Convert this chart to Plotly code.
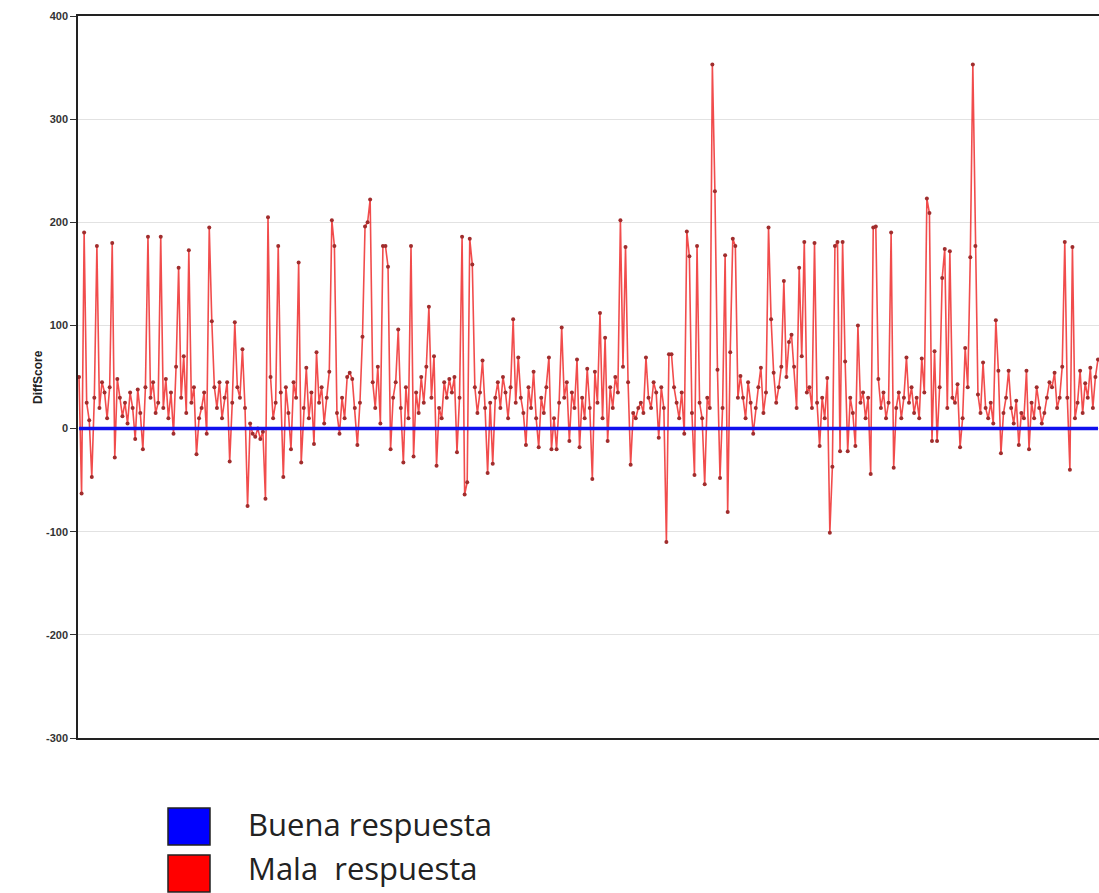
import plotly.graph_objects as go

# ---- data ----
mala_respuesta = [
    50, -63, 190, 25, 8, -47, 30, 177, 20, 45, 35, 10, 40, 180, -28, 48, 30, 12, 25, 5,
    35, 20, -10, 38, 15, -20, 40, 186, 30, 45, 15, 25, 186, 20, 48, 10, 35, -5, 60, 156,
    30, 70, 15, 173, 25, 40, -25, 10, 20, 35, -5, 195, 104, 40, 20, 45, 10, 30, 45, -32,
    25, 103, 40, 30, 77, 20, -75, 5, -5, -8, 0, -10, -3, -68, 205, 50, 10, 25, 177, 35,
    -47, 40, 15, -20, 45, 30, 161, -33, 20, 59, 10, 35, -15, 74, 25, 40, 5, 30, 55, 202,
    177, 15, -5, 30, 10, 50, 54, 48, 20, -16, 25, 89, 196, 200, 222, 45, 20, 60, 5, 177,
    177, 157, -20, 30, 45, 96, 20, -33, 40, 10, 177, -27, 35, 15, 50, 25, 60, 118, 30, 70,
    -36, 20, 10, 45, 30, 48, 35, 50, -23, 30, 186, -64, -52, 184, 159, 40, 15, 35, 66, 20,
    -43, 25, -34, 30, 45, 20, 50, 35, 10, 40, 106, 25, 69, 30, 15, -16, 40, 20, 55, 10,
    -18, 30, 15, 40, 69, -20, 10, -20, 25, 98, 30, 45, -12, 35, 20, 67, -18, 30, 10, 58,
    20, -49, 55, 25, 112, 10, 88, -12, 40, 20, 50, 35, 202, 60, 176, 45, -35, 15, 10, 20,
    25, 15, 69, 30, 20, 45, 35, -9, 40, 20, -110, 72, 72, 40, 25, 10, 35, -5, 191, 167,
    15, -45, 177, 25, 10, -54, 30, 20, 353, 230, 57, -48, 20, 168, -81, 74, 184, 177, 30, 51,
    30, 10, 45, 25, -5, 20, 40, 59, 15, 35, 195, 106, 54, 25, 40, 60, 143, 50, 84, 91,
    60, 20, 156, 70, 181, 35, 40, 20, 180, 25, -17, 30, 10, 49, -101, -37, 177, 181, -22, 181,
    65, -22, 30, 15, -17, 100, 25, 35, 10, 30, -44, 195, 196, 48, 20, 35, 10, 25, 190, -38,
    20, 35, 10, 30, 69, 25, 40, 15, 30, 10, 68, 35, 223, 209, -12, 75, -12, 40, 146, 174,
    20, 172, 30, 25, 43, -18, 10, 78, 40, 166, 353, 177, 33, 15, 64, 20, 10, 25, 5, 105,
    56, -24, 15, 30, 56, 20, 5, 27, -16, 15, 10, 56, -20, 25, 10, 40, 20, 5, 15, 30,
    45, 40, 54, 20, 30, 60, 181, 30, -40, 176, 10, 25, 56, 15, 44, 30, 59, 20, 50, 67,
]
question_index = list(range(len(mala_respuesta)))

buena_x = [0, len(mala_respuesta) - 1]
buena_y = [0, 0]

y_tick_values = [-300, -200, -100, 0, 100, 200, 300, 400]
y_tick_labels = ["-300", "-200", "-100", "0", "100", "200", "300", "400"]

legend_labels = ["Buena respuesta", "Mala  respuesta"]
legend_colors = ["#0000ff", "#ff0000"]

# ---- figure ----
W, H = 1099, 893
left, top, bottom = 78, 16, 738

fig = go.Figure()
fig.add_trace(go.Scatter(
    x=question_index, y=mala_respuesta, mode="lines+markers",
    line=dict(color="rgba(238,45,45,0.85)", width=1.6),
    marker=dict(size=4, color="rgb(160,45,45)"),
    showlegend=False, hoverinfo="skip",
))
fig.add_trace(go.Scatter(
    x=buena_x, y=buena_y, mode="lines",
    line=dict(color="#1010ee", width=3.5),
    showlegend=False, hoverinfo="skip",
))

plot_h = bottom - top
plot_w = W - left

def py(ypx):
    return (bottom - ypx) / plot_h

def px(xpx):
    return (xpx - left) / plot_w

shapes = []
annotations = []
sq_tops = [808, 855]
text_centers = [824, 868]
for i, (lab, col) in enumerate(zip(legend_labels, legend_colors)):
    y0 = sq_tops[i]
    shapes.append(dict(
        type="rect", xref="paper", yref="paper",
        x0=px(168), x1=px(210), y0=py(y0 + 37), y1=py(y0),
        fillcolor=col, line=dict(color="#222", width=1.5),
    ))
    annotations.append(dict(
        text=lab, xref="paper", yref="paper",
        x=px(246), y=py(text_centers[i]), xanchor="left", yanchor="middle",
        showarrow=False,
        font=dict(family="Open Sans", size=31, color="#222"),
    ))

annotations.append(dict(
    text="DiffScore", xref="paper", yref="paper",
    x=px(38), y=py(377), xanchor="center", yanchor="middle",
    textangle=-90, showarrow=False,
    font=dict(family="Liberation Sans", size=12, color="#222", weight="bold"),
))

fig.update_layout(
    width=W, height=H,
    margin=dict(l=left, r=0, t=top, b=H - bottom, pad=0),
    paper_bgcolor="white", plot_bgcolor="white",
    shapes=shapes, annotations=annotations,
    xaxis=dict(
        range=[-0.4, len(mala_respuesta) - 0.6],
        showgrid=False, zeroline=False, showticklabels=False, ticks="",
        showline=True, linecolor="#222", linewidth=1.5, mirror=True,
    ),
    yaxis=dict(
        range=[-300, 400],
        tickvals=y_tick_values, ticktext=y_tick_labels,
        showgrid=True, gridcolor="#e2e2e2", gridwidth=1,
        zeroline=False,
        showline=True, linecolor="#222", linewidth=1.5,
        ticks="outside", ticklen=6, tickcolor="#333",
        tickfont=dict(family="Liberation Sans", size=11, color="#333", weight="bold"),
    ),
)

fig.write_html("out.html")
